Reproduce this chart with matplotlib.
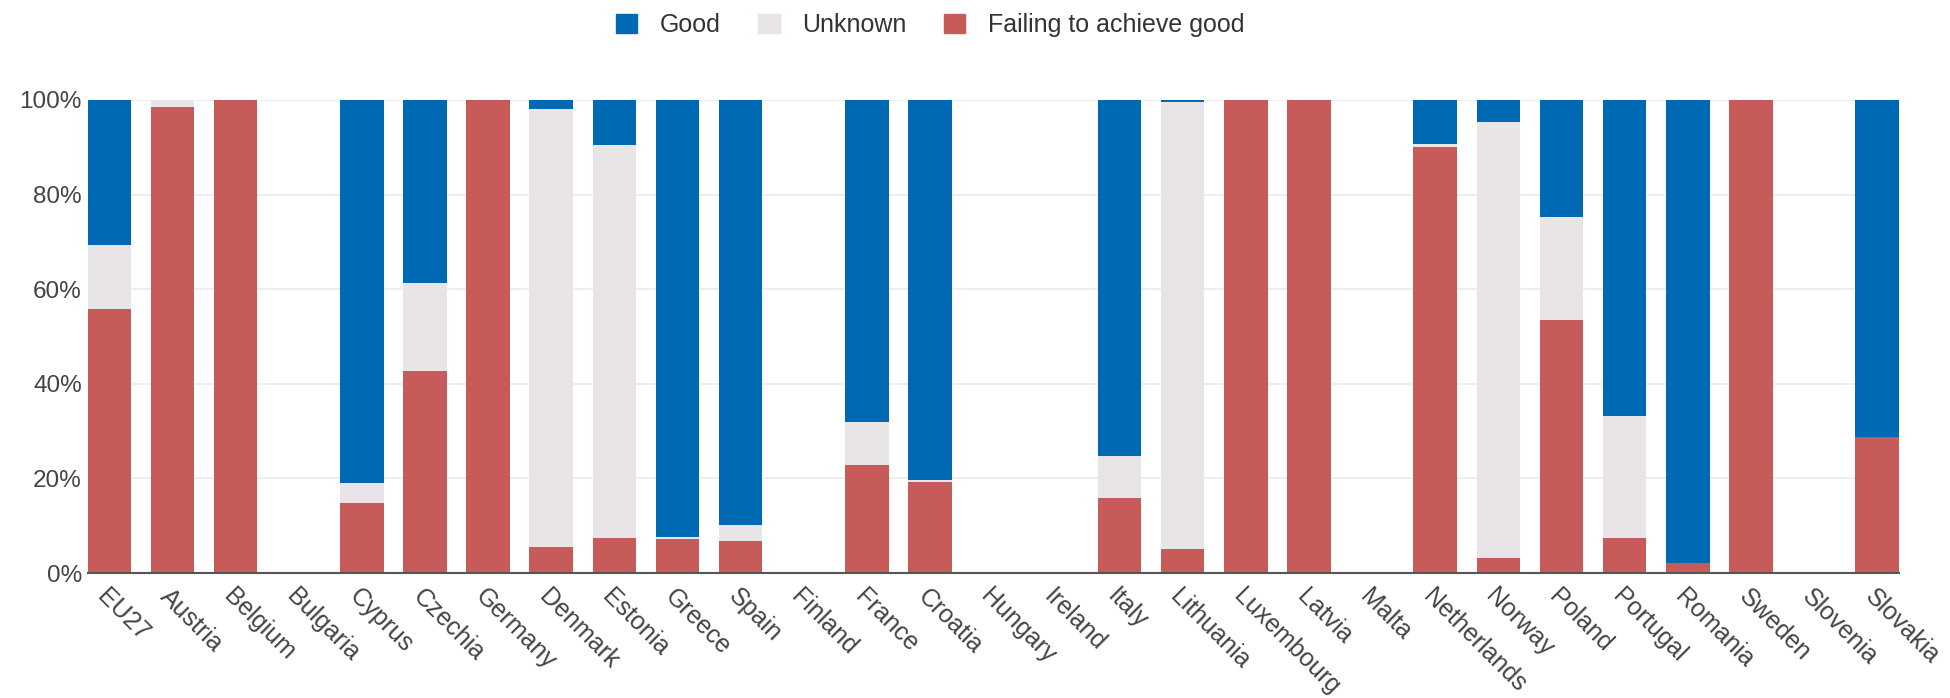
import numpy as np
import matplotlib
matplotlib.use("Agg")
import matplotlib.pyplot as plt
from matplotlib.patches import Patch
from matplotlib.ticker import PercentFormatter

plt.rcParams['font.family'] = ['Liberation Sans', 'DejaVu Sans']

countries = ["EU27", "Austria", "Belgium", "Bulgaria", "Cyprus", "Czechia", "Germany",
             "Denmark", "Estonia", "Greece", "Spain", "Finland", "France", "Croatia",
             "Hungary", "Ireland", "Italy", "Lithuania", "Luxembourg", "Latvia", "Malta",
             "Netherlands", "Norway", "Poland", "Portugal", "Romania", "Sweden",
             "Slovenia", "Slovakia"]

# shares in % (bottom to top: failing, unknown, good)
failing = [55.8, 98.6, 100, 0, 14.8, 42.7, 100, 5.6, 7.4, 7.1, 6.8, 0, 22.8, 19.2,
           0, 0, 15.8, 5.0, 100, 100, 0, 90.1, 3.1, 53.4, 7.3, 2.2, 100, 0, 28.7]
unknown = [13.5, 1.4, 0, 0, 4.2, 18.7, 0, 92.6, 83.0, 0.5, 3.3, 0, 9.1, 0.4,
           0, 0, 9.0, 94.6, 0, 0, 0, 0.6, 92.2, 21.8, 25.8, 0, 0, 0, 0]
good = [30.7, 0, 0, 0, 81.0, 38.6, 0, 1.8, 9.6, 92.4, 89.9, 0, 68.1, 80.4,
        0, 0, 75.2, 0.4, 0, 0, 0, 9.3, 4.7, 24.8, 66.9, 97.8, 0, 0, 71.3]

c_good = "#0069b4"
c_unknown = "#e8e4e8"
c_fail = "#c65b5a"

x = np.arange(len(countries))
f = np.array(failing) / 100
u = np.array(unknown) / 100
g = np.array(good) / 100

fig = plt.figure(figsize=(19.5, 6.98), dpi=100)
ax = fig.add_axes([87.5 / 1950, 1 - 573 / 698, (1899 - 87.5) / 1950, 473 / 698])

w = 0.69
ax.bar(x, f, w, color=c_fail, linewidth=0, zorder=2)
ax.bar(x, u, w, bottom=f, color=c_unknown, linewidth=0, zorder=2)
ax.bar(x, g, w, bottom=f + u, color=c_good, linewidth=0, zorder=2)

ax.set_xlim(-0.5 * w, len(countries) - 1 + 0.5 * w)
ax.set_ylim(0, 1)
ax.set_yticks([0, 0.2, 0.4, 0.6, 0.8, 1.0])
ax.yaxis.set_major_formatter(PercentFormatter(1.0, decimals=0))
ax.grid(axis='y', color='#ebebeb', linewidth=1.2, zorder=0)
for s in ['top', 'right', 'left']:
    ax.spines[s].set_visible(False)
ax.spines['bottom'].set_color('#555555')
ax.spines['bottom'].set_linewidth(1.5)
ax.spines['bottom'].set_zorder(3)
ax.tick_params(axis='y', length=0, pad=4, labelsize=17.5, labelcolor='#444444')
ax.tick_params(axis='x', length=0, pad=8)
ax.set_xticks(x)
ax.set_xticklabels(countries, rotation=-45, ha='left', va='top',
                   rotation_mode='anchor', fontsize=18, color='#444444')

handles = [Patch(color=c_good), Patch(color=c_unknown), Patch(color=c_fail)]
fig.legend(handles, ["Good", "Unknown", "Failing to achieve good"],
           loc='center', bbox_to_anchor=(0.477, 0.964), ncol=3, frameon=False,
           fontsize=18, handlelength=0.85, handleheight=0.85, handletextpad=0.9,
           columnspacing=1.5, labelcolor='#333333')

fig.savefig("out.png", dpi=100, facecolor='white')
